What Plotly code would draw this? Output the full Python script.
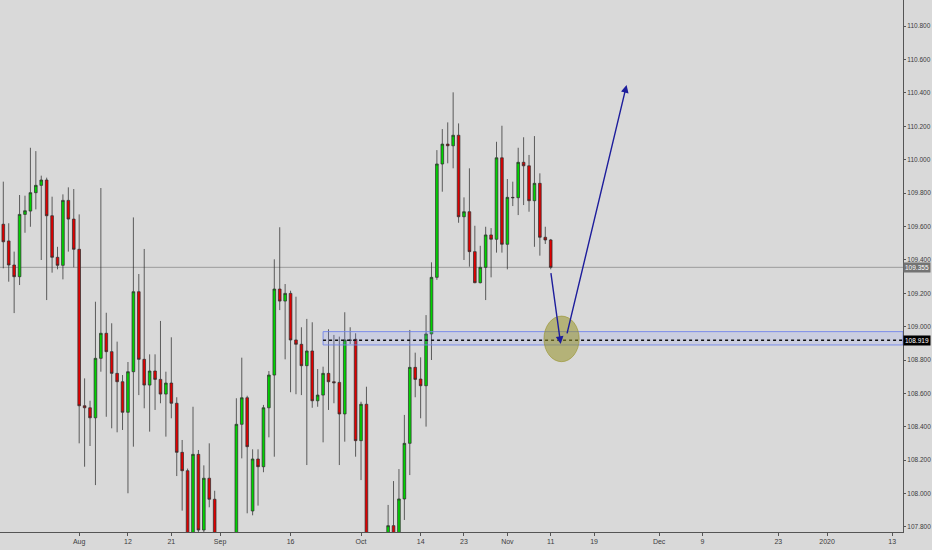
import plotly.graph_objects as go

# ---- data (bar index 0 = first visible daily bar, USDJPY-style daily candles) ----
opens = [109.613, 109.513, 109.369, 109.299, 109.672, 109.692, 109.802, 109.846, 109.878, 109.664,
         109.415, 109.367, 109.756, 109.644, 109.463, 108.526, 108.514, 108.454, 108.810, 108.960,
         108.850, 108.720, 108.670, 108.487, 108.730, 109.209, 108.804, 108.650, 108.734, 108.684,
         108.596, 108.662, 108.541, 108.247, 108.137, 107.650, 108.235, 107.782, 108.092, 107.966,
         107.700, 107.520, 107.480, 107.620, 108.415, 108.574, 107.896, 108.207, 108.161, 108.514,
         108.710, 109.225, 109.153, 109.199, 108.920, 108.894, 108.766, 108.854, 108.556, 108.590,
         108.720, 108.670, 108.666, 108.477, 108.920, 108.924, 108.317, 108.535, 107.650, 107.450,
         107.550, 107.750, 107.808, 107.760, 107.968, 108.301, 108.756, 108.686, 108.646, 108.956,
         109.295, 109.974, 110.093, 110.083, 110.146, 109.658, 109.688, 109.449, 109.263, 109.355,
         109.549, 109.523, 110.011, 109.493, 109.774, 109.772, 109.984, 109.963, 109.754, 109.858,
         109.535, 109.519]
highs = [109.868, 109.619, 109.449, 109.788, 109.784, 110.071, 110.051, 109.904, 109.892, 109.778,
         109.478, 109.792, 109.834, 109.824, 109.672, 108.690, 108.556, 109.149, 109.830, 109.083,
         109.020, 108.910, 108.710, 108.788, 109.654, 109.315, 109.465, 108.834, 108.834, 109.034,
         108.730, 108.936, 108.577, 108.321, 108.150, 108.520, 108.261, 108.169, 108.301, 108.017,
         107.740, 107.650, 107.700, 108.571, 108.814, 108.586, 108.265, 108.265, 108.531, 108.734,
         109.403, 109.595, 109.255, 109.215, 109.179, 108.996, 109.046, 109.026, 108.746, 108.760,
         108.984, 108.950, 108.940, 109.086, 108.996, 108.960, 108.550, 108.640, 107.720, 107.600,
         107.700, 107.932, 108.075, 108.147, 108.471, 108.980, 108.844, 108.816, 109.069, 109.385,
         110.057, 110.183, 110.223, 110.403, 110.217, 109.774, 109.948, 109.604, 109.484, 109.598,
         109.590, 110.107, 110.203, 109.884, 109.868, 110.071, 110.134, 110.028, 110.141, 109.918,
         109.598, 109.525]
lows = [109.349, 109.269, 109.081, 109.249, 109.562, 109.598, 109.702, 109.399, 109.159, 109.323,
        109.343, 109.283, 109.449, 109.355, 108.301, 108.161, 108.285, 108.051, 108.730, 108.460,
        108.391, 108.367, 108.381, 108.002, 108.281, 108.590, 108.511, 108.371, 108.501, 108.541,
        108.341, 108.451, 108.105, 107.898, 107.550, 107.550, 107.600, 107.650, 107.918, 107.600,
        107.450, 107.400, 107.350, 107.550, 108.211, 107.882, 107.870, 107.928, 108.128, 108.337,
        108.221, 109.099, 108.804, 108.607, 108.595, 108.590, 108.171, 108.514, 108.520, 108.307,
        108.501, 108.541, 108.171, 108.311, 108.896, 108.221, 108.081, 107.580, 107.400, 107.300,
        107.450, 107.650, 107.700, 107.700, 107.842, 108.111, 108.577, 108.451, 108.401, 108.800,
        109.280, 109.808, 109.978, 109.948, 109.622, 109.399, 109.359, 109.260, 109.259, 109.159,
        109.295, 109.443, 109.443, 109.343, 109.722, 109.668, 109.728, 109.688, 109.478, 109.425,
        109.495, 109.343]
closes = [109.508, 109.369, 109.299, 109.672, 109.694, 109.802, 109.846, 109.878, 109.664, 109.415,
          109.367, 109.756, 109.644, 109.463, 108.526, 108.514, 108.454, 108.810, 108.960, 108.850,
          108.720, 108.670, 108.487, 108.730, 109.209, 108.804, 108.650, 108.734, 108.684, 108.596,
          108.662, 108.541, 108.247, 108.137, 107.620, 108.235, 107.782, 108.092, 107.966, 107.700,
          107.520, 107.480, 107.600, 108.415, 108.574, 108.281, 108.207, 108.161, 108.514, 108.710,
          109.225, 109.153, 109.199, 108.920, 108.894, 108.766, 108.854, 108.556, 108.590, 108.720,
          108.670, 108.664, 108.477, 108.920, 108.918, 108.317, 108.535, 107.650, 107.450, 107.550,
          107.600, 107.808, 107.760, 107.968, 108.301, 108.756, 108.684, 108.646, 108.956, 109.295,
          109.974, 110.093, 110.083, 110.146, 109.658, 109.688, 109.449, 109.263, 109.355, 109.549,
          109.523, 110.011, 109.493, 109.774, 109.772, 109.984, 109.963, 109.754, 109.858, 109.535,
          109.519, 109.355]

# date axis labels at bar positions (future area continues in calendar days)
tick_idx = [14, 23, 31, 40, 53, 66, 77, 85, 93, 101, 109, 121, 129, 143, 152, 164]
tick_text = ["Aug", "12", "21", "Sep", "16", "Oct", "14", "23", "Nov", "11", "19", "Dec", "9", "23", "2020", "13"]

price_ticks = [107.8, 108.0, 108.2, 108.4, 108.6, 108.8, 109.0, 109.2, 109.4, 109.6, 109.8, 110.0, 110.2, 110.4, 110.6, 110.8]

last_price = 109.355
level_price = 108.919
zone_low, zone_high = 108.890, 108.970
zone_start = 59.0

circle_idx = [99.75, 106.25]
circle_price = [108.790, 109.063]

arrow_tail_idx = [101.0, 103.95]
arrow_tail_price = [109.329, 108.950]
arrow_head_idx = [102.84, 115.0]
arrow_head_price = [108.896, 110.447]

x_range = [-0.61, 166.0]
y_range = [107.770, 110.956]

# ---- build ----
idx = list(range(len(opens)))

fig = go.Figure()
fig.add_trace(go.Candlestick(
    x=idx, open=opens, high=highs, low=lows, close=closes,
    increasing=dict(line=dict(color="#303030", width=0.75), fillcolor="#00d400"),
    decreasing=dict(line=dict(color="#303030", width=0.75), fillcolor="#e00000"),
    whiskerwidth=0, showlegend=False, hoverinfo="skip",
))

shapes = [
    dict(type="line", xref="x", yref="y", x0=x_range[0], x1=x_range[1], y0=last_price, y1=last_price,
         line=dict(color="#9c9c9c", width=1), layer="below"),
    dict(type="rect", xref="x", yref="y", x0=zone_start, x1=x_range[1], y0=zone_low, y1=zone_high,
         fillcolor="rgba(140,155,255,0.18)", line=dict(color="rgba(110,130,235,0.85)", width=1)),
    dict(type="line", xref="x", yref="y", x0=zone_start, x1=x_range[1], y0=level_price, y1=level_price,
         line=dict(color="#111111", width=1.5, dash="dot")),
    dict(type="circle", xref="x", yref="y", x0=circle_idx[0], x1=circle_idx[1], y0=circle_price[0], y1=circle_price[1],
         fillcolor="rgba(150,145,40,0.55)", line=dict(color="rgba(150,145,40,0.6)", width=1)),
]

annotations = []
for k in range(len(arrow_tail_idx)):
    annotations.append(dict(x=arrow_head_idx[k], y=arrow_head_price[k], ax=arrow_tail_idx[k], ay=arrow_tail_price[k],
                            xref="x", yref="y", axref="x", ayref="y", text="", showarrow=True,
                            arrowhead=2, arrowsize=1.1, arrowwidth=1.4, arrowcolor="#1d1d9c", standoff=0))
lab_font = dict(family="Liberation Sans, Arial", size=6.5, color="white")
annotations.append(dict(x=1, y=last_price, xref="paper", yref="y", xanchor="left", yanchor="middle", xshift=0,
                        text=f"{last_price:.3f}", showarrow=False, bgcolor="#737373", font=lab_font, borderpad=1))
annotations.append(dict(x=1, y=level_price, xref="paper", yref="y", xanchor="left", yanchor="middle", xshift=0,
                        text=f"{level_price:.3f}", showarrow=False, bgcolor="#000000", font=lab_font, borderpad=1))

tick_font = dict(family="Liberation Sans, Arial", size=6.5, color="#3c3c3c")
xtick_font = dict(family="Liberation Sans, Arial", size=7, color="#3c3c3c")
fig.update_layout(
    width=932, height=550,
    margin=dict(l=0, r=29, t=0, b=18, autoexpand=False),
    paper_bgcolor="#d9d9d9", plot_bgcolor="#d9d9d9",
    shapes=shapes, annotations=annotations,
    xaxis=dict(range=x_range, tickmode="array", tickvals=tick_idx, ticktext=tick_text, automargin=False,
               rangeslider=dict(visible=False),
               showgrid=False, zeroline=False, showline=True, linecolor="#555555", linewidth=1,
               ticks="outside", ticklen=3, tickcolor="#555555", tickfont=xtick_font, fixedrange=True),
    yaxis=dict(range=y_range, side="right", tickmode="array", tickvals=price_ticks, automargin=False,
               ticktext=[f"{v:.3f}" for v in price_ticks],
               showgrid=False, zeroline=False, showline=True, linecolor="#555555", linewidth=1,
               ticks="outside", ticklen=2, tickcolor="#555555", tickfont=tick_font, fixedrange=True),
    showlegend=False,
)

fig.write_html("out.html", config={"displayModeBar": False},
               post_script="document.body.style.margin='0';document.body.style.overflow='hidden';")
